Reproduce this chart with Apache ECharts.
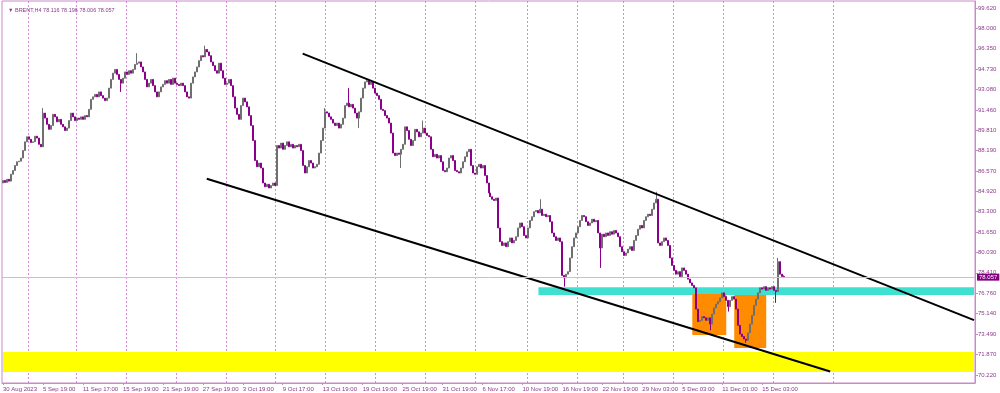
<!DOCTYPE html>
<html><head><meta charset="utf-8">
<script src="https://cdn.jsdelivr.net/npm/echarts@6/dist/echarts.min.js"></script>
<style>html,body{margin:0;padding:0;background:#fff}#c{width:1000px;height:393px}</style>
</head><body><div id="c"></div>
<script>
// ---- data ----
const symbolTitle = 'BRENT,H4 78.116 78.196 78.006 78.057';
const firstOpen = 85.6;
const lastOpen = 78.116;
const closes = [
85.8,85.65,85.9,85.75,86.3,86.6,87.0,87.3,87.35,87.6,
88.2,88.9,89.3,89.1,88.85,88.9,89.35,89.2,88.7,88.5,
91.2,90.8,90.3,89.9,90.2,91.1,90.9,90.5,90.7,90.3,
90.1,89.8,90.0,90.6,91.2,90.9,90.6,90.8,90.7,90.9,
90.7,91.0,90.9,91.5,92.3,92.5,92.7,92.5,92.9,92.6,
92.4,92.2,92.4,93.2,93.9,94.4,94.7,94.3,93.9,93.6,
94.0,94.5,94.3,94.6,94.4,94.7,95.1,95.2,95.3,94.9,
94.5,93.9,93.3,93.6,93.9,93.4,92.9,92.5,92.9,93.3,
93.5,93.8,93.6,93.9,93.5,94.0,93.6,93.5,93.4,93.6,
93.4,92.9,92.5,92.4,93.6,94.1,94.5,94.9,95.4,95.8,
95.7,96.3,96.1,95.8,95.3,95.0,94.6,94.4,95.2,94.6,
94.0,93.5,93.6,93.9,93.4,92.5,91.6,91.1,90.7,91.8,
92.4,92.1,91.7,91.0,90.2,89.0,87.4,86.9,87.2,86.8,
85.6,85.3,85.5,85.2,85.4,85.6,85.4,88.6,88.4,88.8,
88.3,88.6,88.9,88.5,88.7,88.4,88.6,88.5,88.7,88.2,
87.0,86.4,86.9,87.4,87.2,86.8,86.9,87.1,88.0,89.0,
90.0,91.3,91.2,90.9,90.7,90.4,90.2,90.4,90.0,90.3,
90.8,91.8,92.0,91.7,91.9,91.6,91.2,90.8,91.3,92.4,
93.2,93.7,93.8,93.5,93.7,93.2,92.8,92.6,92.3,91.5,
91.4,91.0,90.8,90.4,89.6,88.0,87.8,88.0,87.9,88.3,
88.7,90.1,89.8,89.1,88.6,89.0,89.9,89.7,89.3,89.6,
90.0,89.6,89.4,89.3,88.3,87.7,87.9,87.6,87.8,87.3,
86.6,86.5,86.8,87.6,87.8,87.4,86.6,86.5,86.4,86.8,
87.3,87.7,88.1,88.3,87.0,86.4,86.3,86.9,87.1,86.8,
87.0,86.2,85.6,84.8,84.5,84.3,84.2,84.4,82.0,80.9,
80.6,80.8,80.5,80.9,81.2,80.8,81.0,81.3,82.0,82.4,
82.1,81.4,81.2,82.0,82.6,82.9,83.3,83.4,83.2,83.5,
83.0,83.1,82.9,83.0,82.5,81.6,81.3,81.0,81.2,80.9,
78.2,78.0,78.3,78.5,79.6,80.5,81.2,81.6,82.1,82.6,
83.0,82.9,82.5,82.2,82.4,82.7,82.5,82.6,81.6,80.4,
81.5,81.3,81.6,81.4,81.7,81.5,81.8,81.6,81.3,80.5,
80.1,79.8,80.0,80.3,80.5,80.2,81.0,81.4,81.9,82.2,
82.0,82.6,82.9,83.1,83.0,83.5,84.0,84.3,80.8,80.6,
80.9,81.2,81.0,80.6,79.6,79.0,78.6,78.3,78.5,78.1,
78.8,78.6,78.3,77.9,77.6,77.4,77.2,75.5,74.5,74.6,
74.9,74.8,74.6,74.8,74.3,75.1,75.6,75.9,76.1,76.4,
76.8,76.5,76.2,75.7,76.2,76.5,76.3,75.5,74.2,73.5,
73.3,73.1,73.0,73.6,74.3,75.0,75.8,76.3,76.8,77.2,
77.1,77.3,77.0,77.2,77.1,77.3,77.0,76.9,79.3,78.3,
78.116,78.057
];
const wickHigh = {20:91.6,67:96.0,101:96.6,161:91.6,173:93.2,182:94.0,210:90.6,269:84.3,327:84.9,388:79.6,391:78.196};
const wickLow = {59:92.9,178:90.0,199:86.8,281:77.3,299:78.8,354:73.8,363:75.3,372:72.8,387:76.0,391:78.006};
const lastPrice = 78.057;
const totalSlots = 487;
const timeLabels = ['30 Aug 2023','5 Sep 19:00','11 Sep 17:00','15 Sep 19:00','21 Sep 19:00','27 Sep 19:00','3 Oct 19:00','9 Oct 17:00','13 Oct 19:00','19 Oct 19:00','25 Oct 19:00','31 Oct 19:00','6 Nov 17:00','10 Nov 19:00','16 Nov 19:00','22 Nov 19:00','29 Nov 03:00','5 Dec 03:00','11 Dec 01:00','15 Dec 03:00'];
const barsPerLabel = 20;
const weekStarts = [13,37,62,87,112,137,162,187,212,237,263,288,311,336,361,386,416];
const yTicks = [70.22,71.87,73.49,75.14,76.76,78.41,80.03,81.65,83.30,84.92,86.57,88.19,89.81,91.46,93.08,94.73,96.35,98.00,99.62];
const upperTrend = [[150,95.97],[486,74.62]];
const lowerTrend = [[102,85.94],[414,70.50]];
const yellowBand = {from:0,to:486,top:72.06,bottom:70.47};
const cyanBand = {from:268,to:486,top:77.26,bottom:76.62};
const orangeBoxes = [{from:345,to:362,top:76.70,bottom:73.42},{from:366,to:382,top:76.62,bottom:72.38}];

// ---- build ----
const cats = Array.from({length: totalSlots}, (_, i) => String(i));
const labelAt = {};
timeLabels.forEach((t, k) => { labelAt[k * barsPerLabel] = t; });
const ohlc = closes.map((c, i) => {
  let op = i === 0 ? firstOpen : closes[i - 1];
  if (i === closes.length - 1) op = lastOpen;
  let lo = Math.min(op, c), hi = Math.max(op, c);
  if (wickHigh[i] !== undefined) hi = Math.max(hi, wickHigh[i]);
  if (wickLow[i] !== undefined) lo = Math.min(lo, wickLow[i]);
  return [op, c, lo, hi];
});
const weekSet = new Set(weekStarts);
const area = (b, color) => [{xAxis: b.from, yAxis: b.top, itemStyle: {color: color, opacity: 1}}, {xAxis: b.to, yAxis: b.bottom}];

const purple = '#8b3a8b';
const axisCol = '#c98ac9';
const font = 'Liberation Sans';
const upCol = '#6f6f6f';
const downCol = '#8b008b';

const chart = echarts.init(document.getElementById('c'), null, {renderer: 'canvas'});
chart.setOption({
  animation: false,
  backgroundColor: '#ffffff',
  title: {text: '\u25BC ' + symbolTitle, left: 3, top: 2,
    textStyle: {fontSize: 5.5, color: purple, fontFamily: font, fontWeight: 'normal'}},
  grid: {left: 1, right: 25, top: 1, bottom: 10, show: true, borderColor: axisCol, borderWidth: 1, backgroundColor: 'transparent'},
  xAxis: {
    type: 'category', data: cats, boundaryGap: true,
    axisLine: {show: true, lineStyle: {color: axisCol}},
    axisTick: {show: true, alignWithLabel: true, length: 2, lineStyle: {color: axisCol},
      interval: (i) => labelAt[i] !== undefined},
    axisLabel: {show: true, interval: 0, align: 'left', margin: 3, fontSize: 6, color: purple, fontFamily: font,
      formatter: (v, i) => labelAt[i] || ''},
    splitLine: {show: true, interval: (i) => weekSet.has(i), lineStyle: {color: '#d58ad5', type: [2, 2], width: 1}}
  },
  yAxis: {
    type: 'value', position: 'right', min: 69.58, max: 100.18, scale: true,
    axisLine: {show: true, lineStyle: {color: axisCol}},
    axisTick: {show: true, length: 3, customValues: yTicks, lineStyle: {color: axisCol}},
    axisLabel: {show: true, margin: 3, fontSize: 6, color: purple, fontFamily: font, customValues: yTicks,
      formatter: (v) => v.toFixed(3)},
    splitLine: {show: false}
  },
  series: [
    {
      type: 'line', data: [], z: 1, silent: true,
      markArea: {silent: true, data: [
        area(yellowBand, '#ffff00'),
        area(cyanBand, '#40e0d0'),
        area(orangeBoxes[0], '#ff8c00'),
        area(orangeBoxes[1], '#ff8c00')
      ]}
    },
    {
      type: 'candlestick', data: ohlc, z: 3, barWidth: 1.5,
      itemStyle: {color: upCol, color0: downCol, borderColor: upCol, borderColor0: downCol, borderWidth: 1},
      markLine: {silent: true, symbol: 'none', animation: false,
        lineStyle: {color: '#c4c4c4', type: 'solid', width: 1},
        label: {show: true, position: 'end', distance: 2, formatter: lastPrice.toFixed(3), color: '#ffffff',
          backgroundColor: '#800080', fontSize: 6, fontFamily: font, padding: [1, 2, 0, 2]},
        data: [{yAxis: lastPrice}]}
    },
    {type: 'line', data: upperTrend, z: 4, symbol: 'none', silent: true, lineStyle: {color: '#000', width: 2}},
    {type: 'line', data: lowerTrend, z: 4, symbol: 'none', silent: true, lineStyle: {color: '#000', width: 2}}
  ]
});
</script></body></html>
